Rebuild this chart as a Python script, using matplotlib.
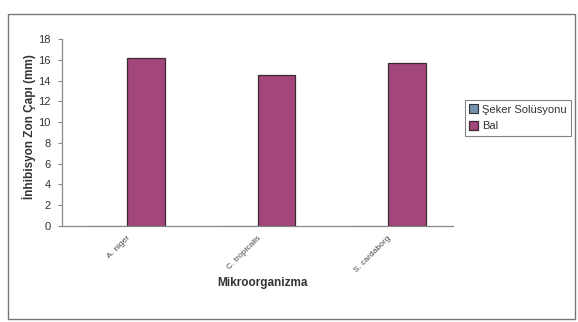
import matplotlib
matplotlib.use("Agg")
import matplotlib.pyplot as plt
import numpy as np
from matplotlib.patches import Rectangle

plt.rcParams["font.family"] = ["Liberation Sans", "DejaVu Sans"]

categories = ["A. niger", "C. tropicalis", "S. cardaborg"]
seker = [0, 0, 0]
bal = [16.2, 14.5, 15.7]
yticks = [0, 2, 4, 6, 8, 10, 12, 14, 16, 18]

W, H = 578, 322
fig = plt.figure(figsize=(W / 100, H / 100), dpi=100)
fig.patch.set_facecolor("white")

# outer frame
fig.patches.append(Rectangle((8 / W, 1 - 319 / H), 567 / W, 305 / H,
                             transform=fig.transFigure, fill=False,
                             edgecolor="#777777", linewidth=1.0))

ax = fig.add_axes([62 / W, 1 - 226 / H, 391 / W, 187 / H])
x = np.arange(len(categories))
w = 0.29
ax.bar(x - w / 2, seker, w, color="#7393b3", edgecolor="#333333", linewidth=0.8,
       label="Şeker Solüsyonu")
ax.bar(x + w / 2, bal, w, color="#a3467c", edgecolor="#3a2a30", linewidth=0.9,
       label="Bal")
ax.set_xlim(-0.5, 2.5)
ax.set_ylim(0, 18)
ax.set_yticks(yticks)
ax.set_yticklabels([str(v) for v in yticks], fontsize=8, color="#333333")
ax.set_xticks(x)
ax.set_xticklabels(categories, rotation=45, ha="right", rotation_mode="anchor",
                   fontsize=6, color="#444444")
ax.tick_params(axis="x", length=0, pad=6)
ax.tick_params(axis="y", length=3, color="#888888", pad=5)
for s in ["top", "right"]:
    ax.spines[s].set_visible(False)
for s in ["left", "bottom"]:
    ax.spines[s].set_color("#888888")
    ax.spines[s].set_linewidth(0.9)

fig.text(29 / W, 1 - 127 / H, "İnhibisyon Zon Çapı (mm)", fontsize=8.5,
         fontweight="bold", color="#333333", ha="center", va="center",
         rotation=90)
fig.text(263 / W, 1 - 283 / H, "Mikroorganizma", fontsize=8.5, fontweight="bold",
         color="#333333", ha="center", va="center")

leg = fig.legend(loc="upper left", bbox_to_anchor=(465 / W, 1 - 100 / H),
                 fontsize=8, frameon=True, fancybox=False, handlelength=0.8,
                 handleheight=0.8, handletextpad=0.3, borderpad=0.4,
                 labelspacing=0.6, borderaxespad=0)
leg.get_frame().set_edgecolor("#666666")
leg.get_frame().set_linewidth(0.8)
for t in leg.get_texts():
    t.set_color("#333333")

fig.savefig("out.png", dpi=100)
